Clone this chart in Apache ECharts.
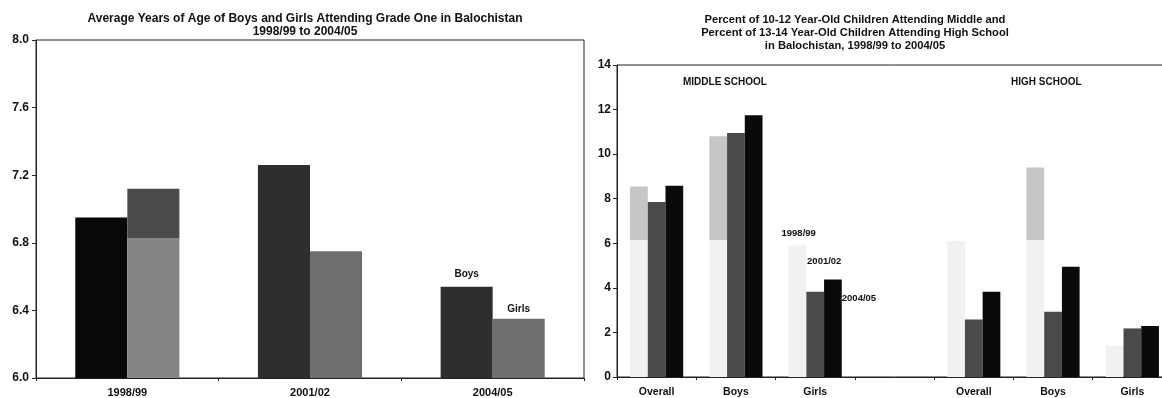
<!DOCTYPE html>
<html><head><meta charset="utf-8">
<script src="https://cdn.jsdelivr.net/npm/echarts@6/dist/echarts.min.js"></script>
<style>html,body{margin:0;padding:0;background:#fff;overflow:hidden}#c{width:1176px;height:398px}</style>
</head><body><div id="c"></div>
<script>
// ---- Left chart data ----
const ageYears = ['1998/99', '2001/02', '2004/05'];
const ageBoys = [6.95, 7.26, 6.54];
const ageGirls = [7.12, 6.75, 6.35];
const ageTicks = [6.0, 6.4, 6.8, 7.2, 7.6, 8.0];

// ---- Right chart data ----
const schoolCats = ['Overall', 'Boys', 'Girls', '', 'Overall', 'Boys', 'Girls'];
const enr1998 = [8.55, 10.8, 5.9, '-', 6.1, 9.4, 1.4];
const enr2001 = [7.85, 10.95, 3.82, '-', 2.58, 2.93, 2.18];
const enr2004 = [8.58, 11.74, 4.38, '-', 3.83, 4.95, 2.29];
const enrTicks = [0, 2, 4, 6, 8, 10, 12, 14];

const FONT = 'Liberation Sans, Arial, sans-serif';
const G = echarts.graphic;

// scanned-look two-tone fill (darker/lighter above a level)
function twoTone(v, level, base, topCol, botCol) {
  if (typeof v !== 'number' || v <= level) return botCol;
  const f = (v - level) / (v - base);
  return new G.LinearGradient(0, 0, 0, 1, [
    {offset: 0, color: topCol}, {offset: f, color: topCol},
    {offset: f, color: botCol}, {offset: 1, color: botCol}]);
}

const chart = echarts.init(document.getElementById('c'), null, {renderer: 'canvas'});

const boysColors = ['#080808', '#2e2e2e', '#2e2e2e'];
const axisLineStyle = {color: '#222', width: 1};
const txt = (size) => ({fontFamily: FONT, fontSize: size, fontWeight: 'bold', color: '#111'});

chart.setOption({
  animation: false,
  backgroundColor: '#fff',
  title: [
    {text: 'Average Years of Age of Boys and Girls Attending Grade One in Balochistan\n1998/99 to 2004/05',
     left: 300, top: 7, textAlign: 'center',
     textStyle: Object.assign(txt(12), {lineHeight: 13})},
    {text: 'Percent of 10-12 Year-Old Children Attending Middle and\nPercent of 13-14 Year-Old Children Attending High School\nin Balochistan, 1998/99 to 2004/05',
     left: 850, top: 8, textAlign: 'center',
     textStyle: Object.assign(txt(11.2), {lineHeight: 13})},
    {text: 'MIDDLE SCHOOL', left: 678, top: 72, textStyle: txt(10)},
    {text: 'HIGH SCHOOL', left: 1006, top: 72, textStyle: txt(10)}
  ],
  grid: [
    {left: 36, top: 40, width: 548, height: 338, show: true, borderColor: '#222', borderWidth: 1, backgroundColor: 'transparent'},
    {left: 617, top: 65, width: 555, height: 312, show: true, borderColor: '#222', borderWidth: 1, backgroundColor: 'transparent'}
  ],
  xAxis: [
    {type: 'category', gridIndex: 0, data: ageYears,
     axisLine: {lineStyle: axisLineStyle}, axisTick: {show: true, length: 3, lineStyle: axisLineStyle},
     axisLabel: Object.assign(txt(11), {margin: 9})},
    {type: 'category', gridIndex: 1, data: schoolCats,
     axisLine: {lineStyle: axisLineStyle}, axisTick: {show: true, length: 3, lineStyle: axisLineStyle},
     axisLabel: Object.assign(txt(10.5), {margin: 10, interval: 0})}
  ],
  yAxis: [
    {type: 'value', gridIndex: 0, min: ageTicks[0], max: ageTicks[ageTicks.length - 1], interval: 0.4,
     axisLine: {show: true, lineStyle: axisLineStyle}, axisTick: {show: true, length: 4, lineStyle: axisLineStyle},
     splitLine: {show: false},
     axisLabel: Object.assign(txt(12), {margin: 7, formatter: v => v.toFixed(1)})},
    {type: 'value', gridIndex: 1, min: enrTicks[0], max: enrTicks[enrTicks.length - 1], interval: 2,
     axisLine: {show: true, lineStyle: axisLineStyle}, axisTick: {show: true, length: 4, lineStyle: axisLineStyle},
     splitLine: {show: false},
     axisLabel: Object.assign(txt(12), {margin: 6})}
  ],
  series: [
    {name: 'Boys', type: 'bar', xAxisIndex: 0, yAxisIndex: 0, barGap: '0%', barCategoryGap: '43%',
     data: ageBoys.map((v, i) => ({value: v, itemStyle: {color: boysColors[i]},
       label: i === ageBoys.length - 1 ? Object.assign({show: true, position: 'top', distance: 7, formatter: 'Boys'}, txt(10)) : {show: false}}))},
    {name: 'Girls', type: 'bar', xAxisIndex: 0, yAxisIndex: 0, barGap: '0%', barCategoryGap: '43%',
     data: ageGirls.map((v, i) => ({value: v,
       itemStyle: {color: i === 0 ? twoTone(v, 6.83, 6, '#4a4a4a', '#858585') : '#6e6e6e'},
       label: i === ageGirls.length - 1 ? Object.assign({show: true, position: 'top', distance: 5, formatter: 'Girls'}, txt(10)) : {show: false}}))},

    {name: '1998/99', type: 'bar', xAxisIndex: 1, yAxisIndex: 1, barGap: '0%', barCategoryGap: '33%',
     data: enr1998.map((v, i) => ({value: v,
       itemStyle: {color: twoTone(v, 6.15, 0, '#c6c6c6', '#f1f1f1')},
       label: i === 2 ? Object.assign({show: true, position: ['50%', -17], align: 'left', formatter: '1998/99'}, txt(9.5), {offset: [-16, 0]}) : {show: false}}))},
    {name: '2001/02', type: 'bar', xAxisIndex: 1, yAxisIndex: 1, barGap: '0%', barCategoryGap: '33%',
     data: enr2001.map((v, i) => ({value: v, itemStyle: {color: '#4a4a4a'},
       label: i === 2 ? Object.assign({show: true, position: ['100%', -35], align: 'left', formatter: '2001/02'}, txt(9.5), {offset: [-17, 0]}) : {show: false}}))},
    {name: '2004/05', type: 'bar', xAxisIndex: 1, yAxisIndex: 1, barGap: '0%', barCategoryGap: '33%',
     data: enr2004.map((v, i) => ({value: v, itemStyle: {color: '#0a0a0a'},
       label: i === 2 ? Object.assign({show: true, position: ['100%', 14], align: 'left', formatter: '2004/05'}, txt(9.5)) : {show: false}}))}
  ]
});
</script>
</body></html>
